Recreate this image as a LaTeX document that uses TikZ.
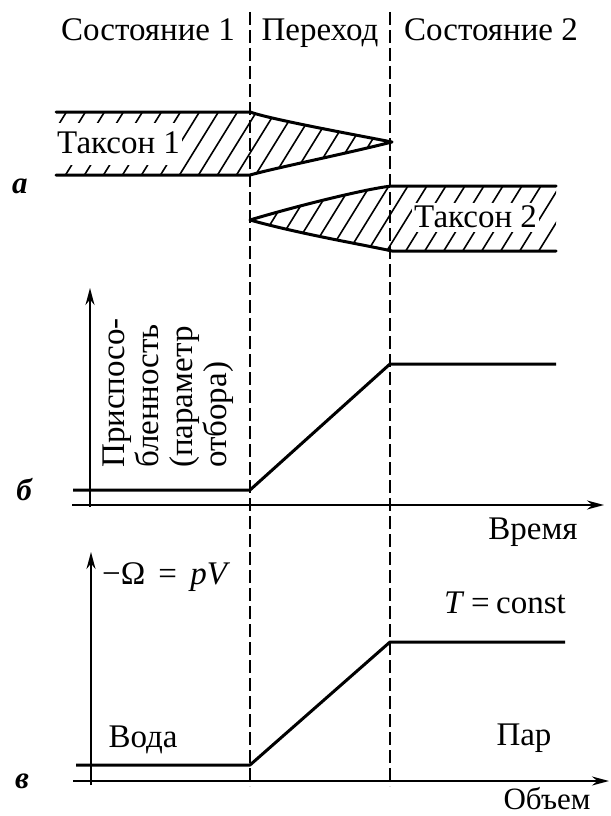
\documentclass[tikz,border=0pt]{standalone}
\usepackage{fontspec}
\setmainfont{Liberation Serif}
\usetikzlibrary{arrows.meta}
\begin{document}
\begin{tikzpicture}[x=1pt,y=-1pt,
  lbl/.style={font=\fontsize{33}{34}\selectfont, inner sep=0pt},
  panel/.style={font=\fontsize{31}{34}\selectfont\bfseries\itshape, inner sep=0pt},
  divider/.style={line width=1.8pt, dash pattern=on 13pt off 5pt},
  outline/.style={line width=3pt, line join=round, line cap=round},
  hatch/.style={line width=1.6pt},
  axis/.style={line width=2pt, -{Stealth[length=17pt,width=9pt]}},
  curve/.style={line width=3pt, line join=round},
  whitebox/.style={lbl, fill=white, inner xsep=2pt, inner ysep=0pt},
]
\useasboundingbox (0,0) rectangle (610,816);

% ---- dividers
\coordinate (d1t) at (250,12);
\coordinate (d1b) at (250,786);
\coordinate (d2t) at (390,12);
\coordinate (d2b) at (390,786);
\draw[divider] (d1t) -- (d1b);
\draw[divider] (d2t) -- (d2b);

% ---- header
\node[lbl, anchor=base] (s1) at (148,41) {Состояние 1};
\node[lbl, anchor=base] (tr) at (320,41) {Переход};
\node[lbl, anchor=base] (s2) at (491,41) {Состояние 2};

% ---- taxon bands (hatching)
\begin{scope}
  \clip (56,112) -- (250,112) .. controls (270,119) and (340,132) .. (392,142)
        .. controls (340,155) and (275,168) .. (250,175) -- (56,175) -- cycle;
  \foreach \a in {-120,-101,...,420} \draw[hatch] (\a,260) -- (\a+105,90);
\end{scope}
\begin{scope}
  \clip (556,186) -- (392,186) .. controls (370,188) and (300,205) .. (250,220)
        .. controls (300,234) and (365,245) .. (392,251) -- (556,251) -- cycle;
  \foreach \a in {90,109,...,600} \draw[hatch] (\a,270) -- (\a+105,100);
\end{scope}
\node[whitebox, anchor=base west, text height=30pt, text depth=12pt] (t1) at (55,153) {Таксон 1};
\node[whitebox, anchor=base west, text height=24pt, text depth=5pt] (t2) at (412,227) {Таксон 2};
\draw[outline] (56,112) -- (250,112) .. controls (270,119) and (340,132) .. (392,142)
        .. controls (340,155) and (275,168) .. (250,175) -- (56,175);
\draw[outline] (556,186) -- (392,186) .. controls (370,188) and (300,205) .. (250,220)
        .. controls (300,234) and (365,245) .. (392,251) -- (556,251);
\node[panel] (pa) at (20,186) {а};

% ---- panel b
\coordinate (bya) at (90,507);
\coordinate (byb) at (90,288);
\coordinate (bxa) at (72,505);
\coordinate (bxb) at (604,505);
\draw[axis] (bya) -- (byb);
\draw[axis] (bxa) -- (bxb);
\coordinate (b0) at (73,490);
\coordinate (b1) at (250,490);
\coordinate (b2) at (390,364);
\coordinate (b3) at (556,364);
\draw[curve] (b0) -- (b1) -- (b2) -- (b3);
\node[lbl, rotate=90, align=left, anchor=north west] (fit) at (103,468)
  {Приспосо-\\бленность\\(параметр\\отбора)};
\node[lbl] (time) at (533,532) {Время};
\node[panel] (pb) at (24,490) {б};

% ---- panel v
\coordinate (vya) at (91,785);
\coordinate (vyb) at (91,552);
\coordinate (vxa) at (73,781);
\coordinate (vxb) at (609,781);
\draw[axis] (vya) -- (vyb);
\draw[axis] (vxa) -- (vxb);
\coordinate (v0) at (76,765);
\coordinate (v1) at (250,765);
\coordinate (v2) at (390,642);
\coordinate (v3) at (565,642);
\draw[curve] (v0) -- (v1) -- (v2) -- (v3);
\node[lbl, anchor=west] (om) at (102,577) {−Ω\hspace{0.4em}=\hspace{0.4em}\textit{pV}};
\node[lbl] (tc) at (505,603) {\textit{T}\hspace{0.2em}=\hspace{0.2em}const};
\node[lbl] (water) at (143,740) {Вода};
\node[lbl] (steam) at (524,738) {Пар};
\node[lbl, anchor=base, font=\fontsize{31}{34}\selectfont] (vol) at (547,809) {Объем};
\node[panel] (pv) at (22,781) {в};
\end{tikzpicture}
\end{document}
